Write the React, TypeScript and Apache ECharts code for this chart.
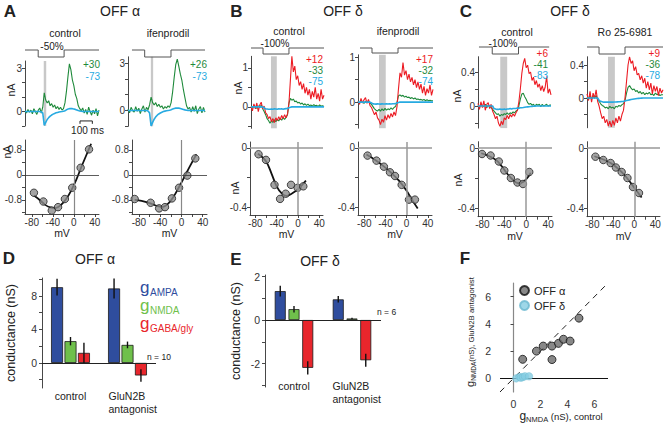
import React, { useEffect, useRef } from 'react';
import * as echarts from 'echarts';

// ---------------- DATA ----------------
const SAMPLE_MS = 12; // trace sampling interval (ms), 51 samples = 600 ms

// Panel A (OFF alpha) currents, nA
const aCtlGreen = [0.05,-0.1,0.15,-0.05,0.1,-0.15,0.2,0.0,-0.2,0.1,0.25,-0.1,0.3,1.3,0.8,0.6,0.75,0.4,0.55,0.3,0.45,0.2,0.35,0.15,0.3,0.1,0.2,0.6,1.4,2.4,3.3,2.9,2.2,1.8,1.2,0.9,0.4,0.2,0.05,0.25,-0.1,0.15,-0.2,0.3,0.0,-0.25,0.1,-0.15,0.2,-0.3,0.1];
const aCtlCyan = [0,0,0,0,0,0,0,0,0,0,0,-0.02,-0.1,-0.95,-0.75,-0.55,-0.42,-0.32,-0.24,-0.18,-0.13,-0.09,-0.06,-0.03,-0.01,0,0.02,0.06,0.12,0.17,0.2,0.21,0.2,0.18,0.15,0.11,0.07,0.04,0.02,0.01,0,0,0,0,0,0,0,0,0,0,0];
const aIfenGreen = [0.1,-0.15,0.2,0.0,-0.1,0.25,-0.05,0.15,-0.2,0.1,0.3,-0.1,0.2,0.05,0.35,0.85,0.5,0.35,0.5,0.25,0.4,0.2,0.3,0.1,0.25,0.15,0.3,0.2,0.5,1.2,2.1,2.9,3.25,2.8,2.3,1.9,1.3,0.8,0.3,0.1,0.2,-0.1,0.25,-0.05,0.3,-0.2,0.1,0.25,-0.15,0.2,-0.1];
const aIfenCyan = [0,0,0,0,0,0,0,0,0,0,0,0,0,-0.03,-0.15,-0.97,-0.75,-0.55,-0.4,-0.3,-0.22,-0.16,-0.11,-0.07,-0.04,-0.02,0,0.02,0.05,0.09,0.13,0.15,0.16,0.15,0.13,0.1,0.07,0.04,0.02,0.01,0,0,0,0,0,0,0,0,0,0,0];

// Panel B (OFF delta)
const bCtlRed = [0.0,-0.1,0.08,-0.05,0.1,-0.12,0.05,0.12,-0.05,0.02,-0.15,-0.2,-0.3,-0.25,-0.38,-0.3,-0.4,-0.28,-0.35,-0.25,-0.33,-0.22,-0.3,-0.2,-0.28,-0.18,0.1,0.7,1.3,0.9,1.05,0.7,0.8,0.55,0.65,0.45,0.6,0.35,0.5,0.3,0.45,0.2,0.4,0.25,0.5,0.2,0.35,0.15,0.45,0.2,0.3];
const bCtlGreen = [0.02,-0.03,0.04,0.0,-0.04,0.03,-0.02,0.05,-0.05,-0.12,-0.2,-0.3,-0.35,-0.42,-0.36,-0.4,-0.33,-0.38,-0.32,-0.36,-0.3,-0.34,-0.28,-0.32,-0.27,-0.2,0.1,0.22,0.17,0.2,0.13,0.15,0.1,0.12,0.07,0.1,0.05,0.08,0.04,0.07,0.03,0.05,0.02,0.06,0.03,0.04,0.01,0.05,0.02,0.03,0.01];
const bCtlCyan = [0,0,0,0,0,0,0,0,0,-0.02,-0.05,-0.055,-0.06,-0.06,-0.055,-0.06,-0.05,-0.055,-0.06,-0.05,-0.055,-0.05,-0.06,-0.05,-0.045,-0.04,-0.02,-0.01,0,0,0,0,0,0,0,0,0,0,0,0,0,0,0,0,0,0,0,0,0,0,0];
const bIfenRed = [0.02,-0.05,0.08,-0.02,0.05,0.1,-0.03,0.06,-0.08,-0.12,-0.2,-0.28,-0.22,-0.35,-0.4,-0.5,-0.38,-0.45,-0.3,-0.4,-0.28,-0.36,-0.25,-0.33,-0.22,-0.3,-0.1,0.3,0.65,0.55,0.88,0.6,0.7,0.5,0.62,0.45,0.55,0.38,0.5,0.32,0.45,0.28,0.4,0.2,0.35,0.15,0.3,0.2,0.38,0.15,0.28];
const bIfenGreen = [0.01,-0.02,0.03,0.0,-0.03,0.02,-0.01,0.03,-0.02,-0.05,-0.1,-0.15,-0.18,-0.2,-0.16,-0.2,-0.15,-0.19,-0.14,-0.18,-0.15,-0.17,-0.13,-0.16,-0.12,-0.1,0.0,0.14,0.16,0.13,0.15,0.11,0.13,0.1,0.11,0.08,0.1,0.07,0.09,0.06,0.07,0.05,0.06,0.04,0.06,0.03,0.05,0.03,0.04,0.03,0.03];
const bIfenCyan = [0,0,0,0,0,0,0,0,0,-0.02,-0.04,-0.042,-0.045,-0.04,-0.043,-0.045,-0.04,-0.042,-0.044,-0.04,-0.042,-0.04,-0.041,-0.038,-0.036,-0.034,-0.02,-0.01,0,0,0,0,0,0,0,0,0,0,0,0,0,0,0,0,0,0,0,0,0,0,0];

// Panel C (OFF delta)
const cCtlRed = [0.03,-0.04,0.05,-0.02,0.06,-0.05,0.02,0.04,-0.03,0.02,-0.06,-0.1,-0.15,-0.12,-0.2,-0.24,-0.18,-0.22,-0.14,-0.16,-0.11,-0.15,-0.1,-0.13,-0.09,-0.12,-0.08,-0.05,0.05,0.2,0.38,0.5,0.56,0.45,0.48,0.38,0.4,0.3,0.34,0.25,0.3,0.22,0.26,0.18,0.24,0.17,0.22,0.35,0.15,0.2,0.13];
const cCtlGreen = [0.01,-0.02,0.02,0,-0.01,0.02,-0.02,0.01,0,-0.02,-0.04,-0.06,-0.08,-0.1,-0.09,-0.12,-0.1,-0.11,-0.09,-0.1,-0.08,-0.1,-0.08,-0.09,-0.07,-0.08,-0.06,-0.05,0.0,0.08,0.14,0.15,0.11,0.08,0.04,0.02,0.03,0.01,0.02,0.0,0.02,0.01,0.02,-0.01,0.02,0.0,0.01,0.02,0.0,0.01,0.01];
const cCtlCyan = [0,0,0,0,0,0,0,0,0,0,0,-0.03,-0.035,-0.04,-0.04,-0.035,-0.04,-0.04,-0.035,-0.04,-0.035,-0.035,-0.03,-0.035,-0.03,-0.03,-0.03,-0.025,-0.025,-0.02,-0.02,-0.018,-0.015,-0.012,-0.01,-0.008,-0.006,-0.004,-0.002,-0.001,0,0,0,0,0,0,0,0,0,0,0];
const cRoRed = [0.05,-0.03,0.08,-0.05,0.06,0.0,0.1,-0.04,-0.1,-0.18,-0.25,-0.22,-0.3,-0.26,-0.34,-0.28,-0.35,-0.27,-0.33,-0.24,-0.3,-0.22,-0.28,-0.2,-0.15,0.0,0.2,0.4,0.5,0.42,0.45,0.33,0.38,0.28,0.3,0.22,0.27,0.18,0.24,0.12,0.2,0.1,0.18,0.05,0.15,0.08,0.14,0.03,0.12,0.06,0.1];
const cRoGreen = [0.01,-0.02,0.03,-0.01,0.02,0.0,0.03,-0.02,-0.04,-0.07,-0.09,-0.1,-0.12,-0.11,-0.13,-0.1,-0.12,-0.11,-0.13,-0.1,-0.11,-0.09,-0.1,-0.08,-0.07,-0.03,0.06,0.13,0.15,0.12,0.1,0.11,0.08,0.09,0.06,0.08,0.05,0.07,0.04,0.06,0.05,0.07,0.04,0.05,0.03,0.06,0.04,0.05,0.03,0.04,0.04];
const cRoCyan = [0,0,0,0,0,0,0,0,-0.03,-0.04,-0.045,-0.05,-0.05,-0.05,-0.05,-0.05,-0.05,-0.05,-0.048,-0.048,-0.046,-0.045,-0.044,-0.042,-0.04,-0.035,-0.03,-0.026,-0.022,-0.018,-0.015,-0.012,-0.009,-0.006,-0.004,-0.002,-0.001,0,0,0,0,0,0,0,0,0,0,0,0,0,0];

// Light stimulus steps [ms, level]
const aCtlStim = [[0,1],[107,1],[107,0],[317,0],[317,1],[600,1]];
const aIfenStim = [[31,1],[130,1],[130,0],[335,0],[335,1],[600,1]];
const bCtlStim = [[0,1],[99,1],[99,0],[312,0],[312,1],[600,1]];
const bIfenStim = [[16,1],[112,1],[112,0],[320,0],[320,1],[600,1]];
const cCtlStim = [[8,1],[117,1],[117,0],[333,0],[333,1],[585,1]];
const cRoStim = [[0,1],[95,1],[95,0],[300,0],[300,1],[600,1]];

// Gray marker windows [start, end] ms
const aCtlFlash = [152, 172];
const aIfenFlash = [178, 196];
const bCtlFlash = [164, 212];
const bIfenFlash = [168, 222];
const cCtlFlash = [183, 240];
const cRoFlash = [166, 220];

// 100 ms scale bar (ms, nA)
const scaleBar100ms = [[446,-0.85],[446,-0.65],[546,-0.65],[546,-0.85]];

// Holding potentials (mV) labels
const aCtlHolding = ['+30', '-73'];
const aIfenHolding = ['+26', '-73'];
const bCtlHolding = ['+12', '-33', '-75'];
const bIfenHolding = ['+17', '-32', '-74'];
const cCtlHolding = ['+6', '-41', '-83'];
const cRoHolding = ['+9', '-36', '-78'];

// Trace axis ticks / labels
const aTraceTicks = [-1, 0, 1, 2, 3];
const aTraceLabels = [0, 3];
const bTraceTicks = [-0.5, 0, 0.5, 1];
const bTraceLabels = [0, 1];
const cTraceTicks = [-0.2, 0, 0.2, 0.4];
const cTraceLabels = [0, 0.4];

// I-V data (mV, nA)
const aIvCtlV = [-76, -58, -42, -30, -17, -3, 13, 29];
const aIvCtlI = [-0.57, -0.85, -1.14, -1.03, -0.77, -0.41, 0.23, 0.82];
const aIvCtlFit = [[-76,-0.66],[-65,-0.8],[-55,-0.95],[-45,-1.04],[-35,-1.06],[-25,-0.97],[-15,-0.78],[-5,-0.5],[5,-0.14],[15,0.28],[25,0.68],[33,1.0]];
const aIvIfenV = [-88, -58, -42, -31, -18, -4.5, 11, 26];
const aIvIfenI = [-0.77, -0.89, -1.07, -1.03, -0.75, -0.41, -0.02, 0.53];
const aIvIfenFit = [[-88,-0.8],[-75,-0.83],[-60,-0.9],[-45,-1.0],[-35,-1.02],[-25,-0.92],[-15,-0.7],[-5,-0.4],[5,-0.08],[15,0.25],[28,0.66]];
const bIvCtlV = [-74, -60, -44, -33.5, -23, -13, -0.6, 10];
const bIvCtlI = [-0.043, -0.081, -0.25, -0.345, -0.31, -0.25, -0.27, -0.26];
const bIvCtlFit = [[-75,-0.04],[-60,-0.09],[-50,-0.17],[-40,-0.26],[-30,-0.31],[-22,-0.325],[-12,-0.31],[0,-0.28],[8,-0.25],[15,-0.222]];
const bIvIfenV = [-74, -57, -43, -31.5, -22, -9.4, 4.4, 15.7];
const bIvIfenI = [-0.052, -0.086, -0.127, -0.165, -0.19, -0.25, -0.35, -0.35];
const bIvIfenFit = [[-76,-0.045],[-60,-0.08],[-45,-0.12],[-30,-0.165],[-15,-0.22],[0,-0.29],[10,-0.35],[21,-0.41]];
const cIvCtlV = [-80.6, -65, -50, -40, -28, -16, -6, 5.5];
const cIvCtlI = [-0.04, -0.05, -0.09, -0.15, -0.2, -0.23, -0.24, -0.16];
const cIvCtlFit = [[-82,-0.035],[-70,-0.05],[-55,-0.08],[-45,-0.12],[-35,-0.17],[-25,-0.21],[-15,-0.235],[-5,-0.225],[5,-0.185],[8,-0.165]];
const cIvRoV = [-74, -59, -45, -35, -24, -13, -2.5, 9];
const cIvRoI = [-0.058, -0.08, -0.1, -0.13, -0.16, -0.2, -0.26, -0.3];
const cIvRoFit = [[-76,-0.055],[-60,-0.075],[-45,-0.1],[-30,-0.14],[-15,-0.195],[0,-0.265],[14,-0.33]];
const ivXTicks = [-80, -60, -40, -20, 0, 20, 40];
const ivXLabels = [-80, -40, 0, 40];
const aIvYTicks = [-1.2, -0.8, -0.4, 0, 0.4, 0.8];
const aIvYLabels = [-0.8, 0, 0.8];
const bcIvYTicks = [-0.4, -0.2, 0];
const bcIvYLabels = [-0.4, 0];

// Conductances (nS), mean and error
const barCategories = ['control', 'GluN2B antagonist'];
const dAmpa = [9.05, 8.9];
const dAmpaErr = [1.0, 1.2];
const dNmda = [2.6, 2.15];
const dNmdaErr = [0.5, 0.4];
const dGaba = [1.2, -1.5];
const dGabaErr = [1.2, 0.75];
const eAmpa = [1.33, 0.95];
const eAmpaErr = [0.25, 0.15];
const eNmda = [0.5, 0.07];
const eNmdaErr = [0.15, 0.03];
const eGaba = [-2.2, -1.85];
const eGabaErr = [0.3, 0.3];
const dYTicks = [-2, 0, 2, 4, 6, 8, 10];
const dYLabels = [0, 4, 8];
const eYTicks = [-3, -2, -1, 0, 1, 2];
const eYLabels = [-2, 0, 2];

// Panel F: gNMDA control vs antagonist (nS)
const fAlphaCtl = [0.68, 1.7, 2.2, 2.85, 2.85, 3.33, 3.7, 4.19, 4.85];
const fAlphaAnt = [1.4, 2.0, 2.37, 2.37, 1.38, 2.57, 2.87, 2.74, 4.42];
const fDeltaCtl = [0.2, 0.45, 0.55, 0.7, 0.85, 1.15];
const fDeltaAnt = [0.0, 0.1, 0.05, 0.1, 0.15, 0.15];
const fTicks = [0, 2, 4, 6];
const unityLine = [[-1, -1], [7, 7]];

// ---------------- STYLE ----------------
const FONT = 'Liberation Sans, Arial, Helvetica, sans-serif';
const INK = '#222';
const GREEN = '#1f8a3b';
const RED = '#ec1c24';
const CYAN = '#27aae1';
const BAR_BLUE = '#2f4d9e';
const BAR_GREEN = '#6fc04b';
const BAR_RED = '#e8262c';

function buildOption() {
  const grid: any[] = [];
  const xAxis: any[] = [];
  const yAxis: any[] = [];
  const series: any[] = [];
  const graphic: any[] = [];
  const axLine = { color: '#333', width: 0.9 };
  const fmt = (v: number) => String(Math.round(v * 100) / 100);

  const addGrid = (l: number, t: number, w: number, h: number, xa: any, ya: any) => {
    const i = grid.length;
    grid.push({ left: l, top: t, width: w, height: h });
    xAxis.push({ gridIndex: i, ...xa });
    yAxis.push({ gridIndex: i, ...ya });
    return i;
  };
  const text = (s: string, x: number, y: number, o: any = {}) =>
    graphic.push({
      type: 'text', x, y, rotation: o.rot || 0, silent: true, z: 100,
      style: {
        text: s, fill: o.color || INK, fontSize: o.size || 10.5, fontFamily: FONT,
        fontWeight: o.bold ? 'bold' : 'normal', textAlign: o.align || 'center', textVerticalAlign: 'middle',
      },
    });
  const toTrace = (vals: number[]) => vals.map((v, i) => [i * SAMPLE_MS, v]);

  // ---------- traces ----------
  const tracePanels = [
    { box: [25, 61, 74, 65], yr: [-1, 3.5], ticks: aTraceTicks, labels: aTraceLabels, stim: aCtlStim, stimBox: [50, 7], flash: aCtlFlash,
      lines: [[aCtlGreen, GREEN], [aCtlCyan, CYAN]], hold: aCtlHolding, holdColors: [GREEN, CYAN], holdX: 100, holdY: [64.5, 76], scale: true },
    { box: [128, 56.8, 77, 69.5], yr: [-1, 3.4], ticks: aTraceTicks, labels: aTraceLabels, stim: aIfenStim, stimBox: [50, 7], flash: aIfenFlash,
      lines: [[aIfenGreen, GREEN], [aIfenCyan, CYAN]], hold: aIfenHolding, holdColors: [GREEN, CYAN], holdX: 207, holdY: [64.5, 76] },
    { box: [251, 56.3, 73, 72], yr: [-0.55, 1.3], ticks: bTraceTicks, labels: bTraceLabels, stim: bCtlStim, stimBox: [48, 6], flash: bCtlFlash,
      lines: [[bCtlGreen, GREEN], [bCtlRed, RED], [bCtlCyan, CYAN]], hold: bCtlHolding, holdColors: [RED, GREEN, CYAN], holdX: 323, holdY: [59, 70.2, 81.4] },
    { box: [358, 54.8, 75, 73.4], yr: [-0.58, 1.05], ticks: bTraceTicks, labels: bTraceLabels, stim: bIfenStim, stimBox: [48, 5], flash: bIfenFlash,
      lines: [[bIfenGreen, GREEN], [bIfenRed, RED], [bIfenCyan, CYAN]], hold: bIfenHolding, holdColors: [RED, GREEN, CYAN], holdX: 433, holdY: [59, 70.2, 81.4] },
    { box: [478, 56.7, 73, 71.4], yr: [-0.26, 0.58], ticks: cTraceTicks, labels: cTraceLabels, stim: cCtlStim, stimBox: [47, 7], flash: cCtlFlash,
      lines: [[cCtlGreen, GREEN], [cCtlRed, RED], [cCtlCyan, CYAN]], hold: cCtlHolding, holdColors: [RED, GREEN, CYAN], holdX: 548, holdY: [53, 64.2, 75.4] },
    { box: [587, 56.75, 76, 71], yr: [-0.36, 0.5], ticks: cTraceTicks, labels: cTraceLabels, stim: cRoStim, stimBox: [47, 7], flash: cRoFlash,
      lines: [[cRoGreen, GREEN], [cRoRed, RED], [cRoCyan, CYAN]], hold: cRoHolding, holdColors: [RED, GREEN, CYAN], holdX: 660, holdY: [53, 64.2, 75.4] },
  ];
  tracePanels.forEach((p: any) => {
    const [l, t, w, h] = p.box;
    const gi = addGrid(l, t, w, h,
      { type: 'value', min: 0, max: 600, show: false, axisLine: { onZero: false } },
      { type: 'value', min: p.yr[0], max: p.yr[1],
        axisLine: { show: true, onZero: false, lineStyle: axLine },
        axisTick: { show: true, length: 3, customValues: p.ticks, lineStyle: axLine },
        axisLabel: { show: true, customValues: p.labels, formatter: fmt, fontSize: 10, color: '#333', margin: 3, fontFamily: FONT },
        splitLine: { show: false } });
    p.lines.forEach(([vals, color]: any, k: number) => {
      series.push({
        type: 'line', xAxisIndex: gi, yAxisIndex: gi, data: toTrace(vals), symbol: 'none', silent: true, z: 3 + k,
        lineStyle: { color, width: color === CYAN ? 1.6 : 1.1 },
        markArea: k === 0 ? { silent: true, itemStyle: { color: '#c8c8c8' }, data: [[{ xAxis: p.flash[0] }, { xAxis: p.flash[1] }]] } : undefined,
      });
    });
    if (p.scale) {
      series.push({ type: 'line', xAxisIndex: gi, yAxisIndex: gi, data: scaleBar100ms, symbol: 'none', silent: true, clip: false,
        lineStyle: { color: '#222', width: 1 } });
    }
    const si = addGrid(l, p.stimBox[0], w, p.stimBox[1],
      { type: 'value', min: 0, max: 600, show: false, axisLine: { onZero: false } },
      { type: 'value', min: 0, max: 1, show: false, axisLine: { onZero: false } });
    series.push({ type: 'line', xAxisIndex: si, yAxisIndex: si, data: p.stim, symbol: 'none', silent: true, clip: false,
      lineStyle: { color: '#555', width: 1 } });
    p.hold.forEach((s: string, k: number) => text(s, p.holdX, p.holdY[k], { color: p.holdColors[k], size: 10, align: 'right' }));
  });

  // ---------- I-V ----------
  const hA = { color: '#333', width: 0.8 };
  const vA = { color: '#888', width: 1.2 };
  const hB = { color: '#999', width: 1.5 };
  const vB = { color: '#999', width: 1.5 };
  const ivPanels = [
    { box: [25, 140, 74, 74], xr: [-93, 48], yr: [-1.25, 1.12], yt: aIvYTicks, yl: aIvYLabels, V: aIvCtlV, I: aIvCtlI, fit: aIvCtlFit, h: hA, v: vA, gap: 13 },
    { box: [132, 140, 75, 74], xr: [-93, 48], yr: [-1.25, 1.12], yt: aIvYTicks, yl: aIvYLabels, V: aIvIfenV, I: aIvIfenI, fit: aIvIfenFit, h: hA, v: vA, gap: 13 },
    { box: [250, 142, 73, 73], xr: [-90, 47], yr: [-0.454, 0.04], yt: bcIvYTicks, yl: bcIvYLabels, V: bIvCtlV, I: bIvCtlI, fit: bIvCtlFit, h: hB, v: vB, gap: 11 },
    { box: [358, 142, 74, 73], xr: [-92, 48], yr: [-0.454, 0.04], yt: bcIvYTicks, yl: bcIvYLabels, V: bIvIfenV, I: bIvIfenI, fit: bIvIfenFit, h: hB, v: vB, gap: 11 },
    { box: [478, 141.7, 74, 75], xr: [-88, 47], yr: [-0.458, 0.042], yt: bcIvYTicks, yl: bcIvYLabels, V: cIvCtlV, I: cIvCtlI, fit: cIvCtlFit, h: hB, v: vB, gap: 13 },
    { box: [587, 141.7, 73, 75], xr: [-90, 49], yr: [-0.458, 0.042], yt: bcIvYTicks, yl: bcIvYLabels, V: cIvRoV, I: cIvRoI, fit: cIvRoFit, h: hB, v: vB, gap: 13 },
  ];
  ivPanels.forEach((p: any) => {
    const [l, t, w, h] = p.box;
    const gi = addGrid(l, t, w, h,
      { type: 'value', min: p.xr[0], max: p.xr[1], name: 'mV', nameLocation: 'middle', nameGap: p.gap,
        nameTextStyle: { fontSize: 10.5, color: INK, fontFamily: FONT },
        axisLine: { show: true, onZero: false, lineStyle: axLine },
        axisTick: { show: true, length: 3, customValues: ivXTicks, lineStyle: axLine },
        axisLabel: { customValues: ivXLabels, formatter: fmt, fontSize: 10, color: '#333', margin: 3, fontFamily: FONT },
        splitLine: { show: false } },
      { type: 'value', min: p.yr[0], max: p.yr[1],
        axisLine: { show: true, onZero: false, lineStyle: axLine },
        axisTick: { show: true, length: 3, customValues: p.yt, lineStyle: axLine },
        axisLabel: { customValues: p.yl, formatter: fmt, fontSize: 10, color: '#333', margin: 3, fontFamily: FONT },
        splitLine: { show: false } });
    series.push({
      type: 'line', xAxisIndex: gi, yAxisIndex: gi, data: p.fit, smooth: 0.35, symbol: 'none', silent: true, z: 3,
      lineStyle: { color: '#111', width: 1.8 },
      markLine: { silent: true, symbol: 'none', label: { show: false },
        data: [{ yAxis: 0, lineStyle: { ...p.h, type: 'solid' } }, { xAxis: 0, lineStyle: { ...p.v, type: 'solid' } }] },
    });
    series.push({
      type: 'scatter', xAxisIndex: gi, yAxisIndex: gi, data: p.V.map((v: number, i: number) => [v, p.I[i]]), symbolSize: 7.5, silent: true, z: 4,
      itemStyle: { color: '#8c8c8c', borderColor: '#222', borderWidth: 1 },
    });
  });

  // ---------- bars ----------
  const barPanels = [
    { box: [42, 278, 114, 110], yr: [-3, 10.15], yt: dYTicks, yl: dYLabels, nameGap: 25, labelMargin: 2, blockW: 38, barW: 12, gap: 0.12,
      groups: [[dAmpa, dAmpaErr, BAR_BLUE], [dNmda, dNmdaErr, BAR_GREEN], [dGaba, dGabaErr, BAR_RED]] },
    { box: [265, 275, 116, 112], yr: [-3.08, 2.07], yt: eYTicks, yl: eYLabels, nameGap: 23, labelMargin: -7, blockW: 39, barW: 11, gap: 0.25,
      groups: [[eAmpa, eAmpaErr, BAR_BLUE], [eNmda, eNmdaErr, BAR_GREEN], [eGaba, eGabaErr, BAR_RED]] },
  ];
  barPanels.forEach((p: any) => {
    const [l, t, w, h] = p.box;
    const gi = addGrid(l, t, w, h,
      { type: 'category', data: barCategories,
        axisLine: { show: false, onZero: false }, axisTick: { show: false },
        axisLabel: { interval: 0, margin: p.labelMargin,
          formatter: (v: string, idx: number) => idx === 0 ? '{c|' + v + '}' : v.split(' ').map((s) => '{g|' + s + '}').join('\n'),
          rich: { c: { fontSize: 10.5, color: INK, fontFamily: FONT },
                  g: { fontSize: 10.5, color: INK, fontFamily: FONT, width: p.blockW, align: 'left', lineHeight: 12.5 } } } },
      { type: 'value', min: p.yr[0], max: p.yr[1], name: 'conductance (nS)', nameLocation: 'middle', nameGap: p.nameGap,
        nameTextStyle: { fontSize: 12.5, color: INK, fontFamily: FONT },
        axisLine: { show: true, onZero: false, lineStyle: axLine },
        axisTick: { show: true, length: 3, customValues: p.yt, lineStyle: axLine },
        axisLabel: { customValues: p.yl, formatter: fmt, fontSize: 10.5, color: '#333', margin: 5, fontFamily: FONT },
        splitLine: { show: false } });
    const errData: any[] = [];
    p.groups.forEach(([vals, errs, color]: any, k: number) => {
      series.push({
        type: 'bar', xAxisIndex: gi, yAxisIndex: gi, data: vals, barWidth: p.barW, barGap: (p.gap * 100) + '%', silent: true, z: 2,
        itemStyle: { color, borderColor: '#1a1a1a', borderWidth: 0.8 },
        markLine: k === 0 ? { silent: true, symbol: 'none', label: { show: false }, lineStyle: { color: '#222', width: 1, type: 'solid' }, data: [{ yAxis: 0 }] } : undefined,
      });
      vals.forEach((m: number, ci: number) => errData.push([ci, k, m, errs[ci]]));
    });
    const step = p.barW * (1 + p.gap);
    series.push({
      type: 'custom', xAxisIndex: gi, yAxisIndex: gi, data: errData, silent: true, z: 5, encode: { x: 0, y: 2 },
      renderItem: (_params: any, api: any) => {
        const ci = api.value(0); const k = api.value(1); const m = api.value(2); const e = api.value(3);
        const a = api.coord([ci, m + e]); const b = api.coord([ci, m - e]);
        const off = (k - 1) * step;
        return { type: 'line', shape: { x1: a[0] + off, y1: a[1], x2: a[0] + off, y2: b[1] }, style: { stroke: '#111', lineWidth: 1.4 } };
      },
    });
  });

  // ---------- F scatter ----------
  const fi = addGrid(500, 283, 108, 109,
    { type: 'value', min: -1, max: 7,
      name: '{g|g}{s|NMDA}{t| (nS), control}', nameLocation: 'middle', nameGap: 17,
      nameTextStyle: { padding: [0, 0, 0, 14], rich: {
        g: { fontSize: 12, fontFamily: FONT, color: INK, verticalAlign: 'bottom', lineHeight: 12, padding: [0, 0, 2, 0] },
        s: { fontSize: 7.5, fontFamily: FONT, color: INK, verticalAlign: 'bottom', lineHeight: 8 },
        t: { fontSize: 9.5, fontFamily: FONT, color: INK, verticalAlign: 'bottom', lineHeight: 10, padding: [0, 0, 2, 0] } } },
      axisLine: { show: false, onZero: false }, axisTick: { show: false },
      axisLabel: { customValues: fTicks, formatter: fmt, fontSize: 10.5, color: '#333', margin: 6, fontFamily: FONT },
      splitLine: { show: false } },
    { type: 'value', min: -1, max: 7,
      name: '{g|g}{s|NMDA}{t|(nS), GluN2B antagonist}', nameLocation: 'middle', nameGap: 23,
      nameTextStyle: { padding: [0, 0, 0, 11], rich: {
        g: { fontSize: 11, fontFamily: FONT, color: INK, verticalAlign: 'bottom', lineHeight: 11, padding: [0, 0, 2, 0] },
        s: { fontSize: 6.5, fontFamily: FONT, color: INK, verticalAlign: 'bottom', lineHeight: 7 },
        t: { fontSize: 7.8, fontFamily: FONT, color: INK, verticalAlign: 'bottom', lineHeight: 8, padding: [0, 0, 2, 0] } } },
      axisLine: { show: true, onZero: true, lineStyle: { color: '#888', width: 1.2 } },
      axisTick: { show: true, length: 3, customValues: fTicks, lineStyle: axLine },
      axisLabel: { customValues: fTicks, formatter: fmt, fontSize: 10.5, color: '#333', margin: 9, fontFamily: FONT },
      splitLine: { show: false } });
  series.push({
    name: 'OFF α', type: 'scatter', xAxisIndex: fi, yAxisIndex: fi, data: fAlphaCtl.map((v, i) => [v, fAlphaAnt[i]]),
    symbolSize: 8, silent: true, z: 4, itemStyle: { color: '#6a6a6a', borderColor: '#111', borderWidth: 1 },
    markLine: { silent: true, symbol: 'none', label: { show: false },
      data: [
        [{ coord: unityLine[0], lineStyle: { color: '#222', width: 1, type: [6, 5] } }, { coord: unityLine[1] }],
        { yAxis: 0, lineStyle: { color: '#111', width: 1, type: 'solid' } },
      ] },
  });
  series.push({
    name: 'OFF δ', type: 'scatter', xAxisIndex: fi, yAxisIndex: fi, data: fDeltaCtl.map((v, i) => [v, fDeltaAnt[i]]),
    symbolSize: 7.5, silent: true, z: 5, itemStyle: { color: '#86cde2', borderColor: '#6bb8d0', borderWidth: 0.5 },
  });

  // ---------- texts ----------
  text('A', 10, 11, { size: 17, bold: true });
  text('B', 236.5, 11, { size: 17, bold: true });
  text('C', 466, 11, { size: 17, bold: true });
  text('D', 9, 258, { size: 17, bold: true });
  text('E', 236, 259, { size: 17, bold: true });
  text('F', 465, 258, { size: 17, bold: true });
  text('OFF α', 120, 11, { size: 14 });
  text('OFF δ', 343, 11, { size: 14 });
  text('OFF δ', 570, 11, { size: 14 });
  text('OFF α', 95, 259, { size: 14 });
  text('OFF δ', 320, 261, { size: 14 });
  text('control', 65, 33); text('ifenprodil', 168, 33);
  text('control', 289, 31); text('ifenprodil', 398, 31);
  text('control', 517, 32); text('Ro 25-6981', 625, 32);
  text('-50%', 52, 46, { size: 10 });
  text('-100%', 275, 43, { size: 10 });
  text('-100%', 503, 43, { size: 10 });
  text('100 ms', 87.5, 130, { size: 10 });
  [[11, 90], [237.5, 88], [457, 96], [7, 152], [235, 188], [458, 180]].forEach(([x, y]) => text('nA', x, y, { rot: Math.PI / 2 }));
  text('n = 10', 147, 357, { size: 8.5, align: 'left' });
  text('n = 6', 377, 312, { size: 8.5, align: 'left' });
  const legendRows: any[] = [['AMPA', BAR_BLUE, 287.5, 292.5], ['NMDA', BAR_GREEN, 305.5, 310.5], ['GABA/gly', BAR_RED, 323, 328]];
  legendRows.forEach(([sub, color, gy, sy]) => {
    text('g', 140, gy, { size: 17, color, align: 'left' });
    text(sub, 150, sy, { size: 10, color, align: 'left' });
  });

  return {
    animation: false,
    backgroundColor: '#fff',
    textStyle: { fontFamily: FONT },
    grid, xAxis, yAxis, series,
    legend: {
      data: ['OFF α', 'OFF δ'], orient: 'vertical', left: 514, top: 280, itemWidth: 9, itemHeight: 9, itemGap: 4,
      icon: 'circle', selectedMode: false, textStyle: { fontSize: 11, color: INK, fontFamily: FONT },
    },
    graphic: { elements: graphic },
  };
}

export default function App() {
  const ref = useRef<HTMLDivElement>(null);
  useEffect(() => {
    const chart = echarts.init(ref.current as HTMLDivElement, null, { renderer: 'svg' });
    chart.setOption(buildOption() as any);
    return () => chart.dispose();
  }, []);
  return <div ref={ref} style={{ position: 'fixed', left: 0, top: 0, width: 664, height: 427, background: '#fff' }} />;
}
